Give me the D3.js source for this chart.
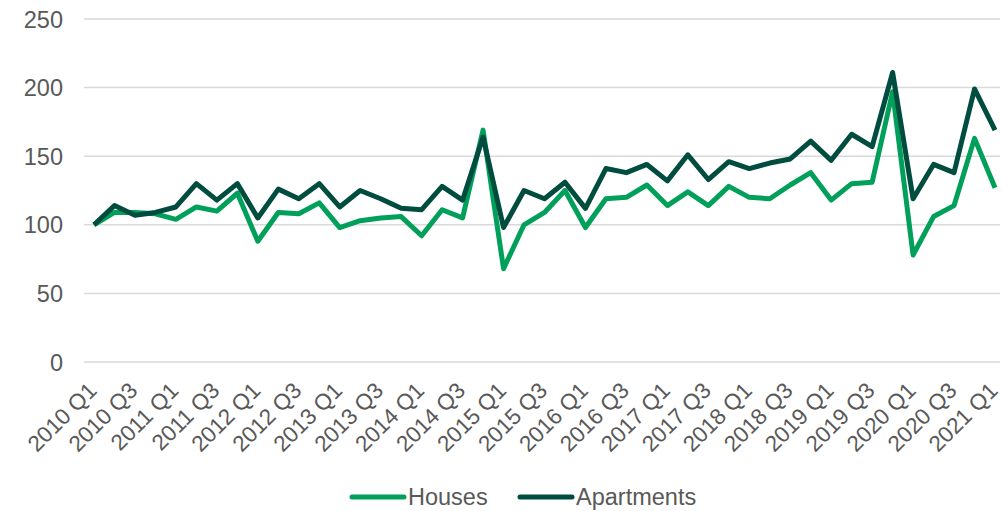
<!DOCTYPE html>
<html>
<head>
<meta charset="utf-8">
<script src="https://cdn.jsdelivr.net/npm/d3@7"></script>
<style>
  body { margin: 0; background: #fff; }
  text { font-family: "Liberation Sans", Arial, sans-serif; fill: #595959; }
</style>
</head>
<body>
<div id="chart"></div>
<script>
// quarters 2010 Q1 .. 2021 Q1
var years = d3.range(2010, 2022)
var quarters = []
years.forEach(function(y) {
  ;['Q1', 'Q2', 'Q3', 'Q4'].forEach(function(q) {
    if (y < 2021 || q === 'Q1') quarters.push(y + ' ' + q)
  })
})

var houses = [100, 109, 109, 108, 104, 113, 110, 123, 88, 109, 108, 116,
  98, 103, 105, 106, 92, 111, 105, 169, 68, 100, 109, 125,
  98, 119, 120, 129, 114, 124, 114, 128, 120, 119, 129, 138,
  118, 130, 131, 197, 78, 106, 114, 163, 127]

var apartments = [100, 114, 107, 109, 113, 130, 118, 130, 105, 126, 119, 130,
  113, 125, 119, 112, 111, 128, 118, 164, 98, 125, 119, 131,
  112, 141, 138, 144, 132, 151, 133, 146, 141, 145, 148, 161,
  147, 166, 157, 211, 119, 144, 138, 199, 169]

var yTicks = [0, 50, 100, 150, 200, 250]

var series = [
  { name: 'Houses', values: houses, color: '#00a05a' },
  { name: 'Apartments', values: apartments, color: '#004d3f' }
]

var width = 1002, height = 511
var margin = { top: 19, right: 0, bottom: 149, left: 84 }

var svg = d3.select('#chart').append('svg')
  .attr('width', width)
  .attr('height', height)

var x = d3.scalePoint()
  .domain(quarters)
  .range([94, 995])

var y = d3.scaleLinear()
  .domain([0, 250])
  .range([height - margin.bottom, margin.top])

// gridlines
svg.append('g')
  .selectAll('line')
  .data(yTicks)
  .enter()
  .append('line')
  .attr('x1', margin.left)
  .attr('x2', width - 2)
  .attr('y1', function(d) { return y(d) })
  .attr('y2', function(d) { return y(d) })
  .attr('stroke', '#d9d9d9')
  .attr('stroke-width', 1.5)

// y labels
svg.append('g')
  .selectAll('text')
  .data(yTicks)
  .enter()
  .append('text')
  .attr('x', 63)
  .attr('y', function(d) { return y(d) + 8.5 })
  .attr('text-anchor', 'end')
  .attr('font-size', 23.5)
  .text(function(d) { return d })

// x labels every second quarter
svg.append('g')
  .selectAll('text')
  .data(quarters.filter(function(d, i) { return i % 2 === 0 }))
  .enter()
  .append('text')
  .attr('font-size', 22.5)
  .attr('text-anchor', 'end')
  .attr('transform', function(d) {
    return 'translate(' + (x(d) + 4) + ',' + (y(0) + 30) + ')rotate(-45)'
  })
  .text(function(d) { return d })

var line = d3.line()
  .x(function(d, i) { return x(quarters[i]) })
  .y(function(d) { return y(d) })

svg.append('g')
  .selectAll('path')
  .data(series)
  .enter()
  .append('path')
  .attr('d', function(d) { return line(d.values) })
  .attr('fill', 'none')
  .attr('stroke', function(d) { return d.color })
  .attr('stroke-width', 5)
  .attr('stroke-linejoin', 'round')

// legend
var legendPos = [350, 518]
var legend = svg.append('g')
  .selectAll('g')
  .data(series)
  .enter()
  .append('g')
  .attr('transform', function(d, i) { return 'translate(' + legendPos[i] + ',497)' })

legend.append('line')
  .attr('x1', 2)
  .attr('x2', 54)
  .attr('stroke', function(d) { return d.color })
  .attr('stroke-width', 5)
  .attr('stroke-linecap', 'round')

legend.append('text')
  .attr('x', 58)
  .attr('y', 8)
  .attr('font-size', 23.5)
  .text(function(d) { return d.name })
</script>
</body>
</html>
